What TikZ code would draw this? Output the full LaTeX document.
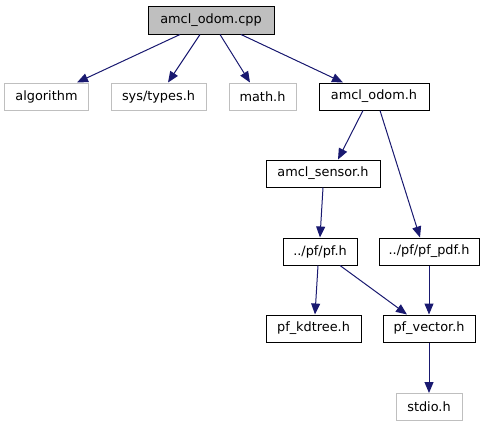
\documentclass[tikz,border=0pt]{standalone}
\usepackage{fontspec}
\setmainfont{DejaVu Sans}
\usetikzlibrary{arrows.meta}
\definecolor{edgeblue}{HTML}{191970}
\definecolor{grayline}{HTML}{BFBFBF}
\tikzset{
  fbox/.style={rectangle, draw=black, line width=1bp, minimum height=27bp, inner sep=0pt, font=\fontsize{12.9}{14}\selectfont},
  extbox/.style={fbox, draw=grayline},
  rootbox/.style={fbox, fill=grayline, draw=black},
  edge/.style={draw=edgeblue, line width=1bp, -{Triangle[length=11bp,width=9bp]}}
}
\begin{document}
\begin{tikzpicture}[x=1bp,y=-1bp]
\useasboundingbox (0,0) rectangle (484,427);
\node[rootbox, minimum width=126bp, minimum height=28bp] (cpp) at (211,20) {amcl\_odom.cpp};
\node[extbox, minimum width=83bp] (alg) at (46.5,96.5) {algorithm};
\node[extbox, minimum width=95bp] (sys) at (158.5,96.5) {sys/types.h};
\node[extbox, minimum width=67bp] (math) at (262.5,96.5) {math.h};
\node[fbox, minimum width=110bp] (odomh) at (374,96.5) {amcl\_odom.h};
\node[fbox, minimum width=114bp] (sensor) at (323,173.5) {amcl\_sensor.h};
\node[fbox, minimum width=74bp] (pf) at (320,251.5) {../pf/pf.h};
\node[fbox, minimum width=100bp] (pdf) at (429,251.5) {../pf/pf\_pdf.h};
\node[fbox, minimum width=95bp] (kd) at (313.5,328.5) {pf\_kdtree.h};
\node[fbox, minimum width=92bp] (vec) at (429,328.5) {pf\_vector.h};
\node[extbox, minimum width=66bp] (stdio) at (429,407) {stdio.h};
\draw[edge] ([xshift=-31bp]cpp.south) -- ([xshift=30.5bp]alg.north);
\draw[edge] ([xshift=-11bp]cpp.south) -- ([xshift=9.5bp]sys.north);
\draw[edge] ([xshift=9bp]cpp.south) -- ([xshift=-12.5bp]math.north);
\draw[edge] ([xshift=30bp]cpp.south) -- ([xshift=-31bp]odomh.north);
\draw[edge] ([xshift=-11bp]odomh.south) -- ([xshift=15bp]sensor.north);
\draw[edge] ([xshift=6bp]odomh.south) -- ([xshift=-9bp]pdf.north);
\draw[edge] (sensor.south) -- ([xshift=0bp]pf.north);
\draw[edge] ([xshift=-2bp]pf.south) -- ([xshift=1.5bp]kd.north);
\draw[edge] ([xshift=20bp]pf.south) -- ([xshift=-22bp]vec.north);
\draw[edge] (pdf.south) -- (vec.north);
\draw[edge] (vec.south) -- (stdio.north);
\end{tikzpicture}
\end{document}
